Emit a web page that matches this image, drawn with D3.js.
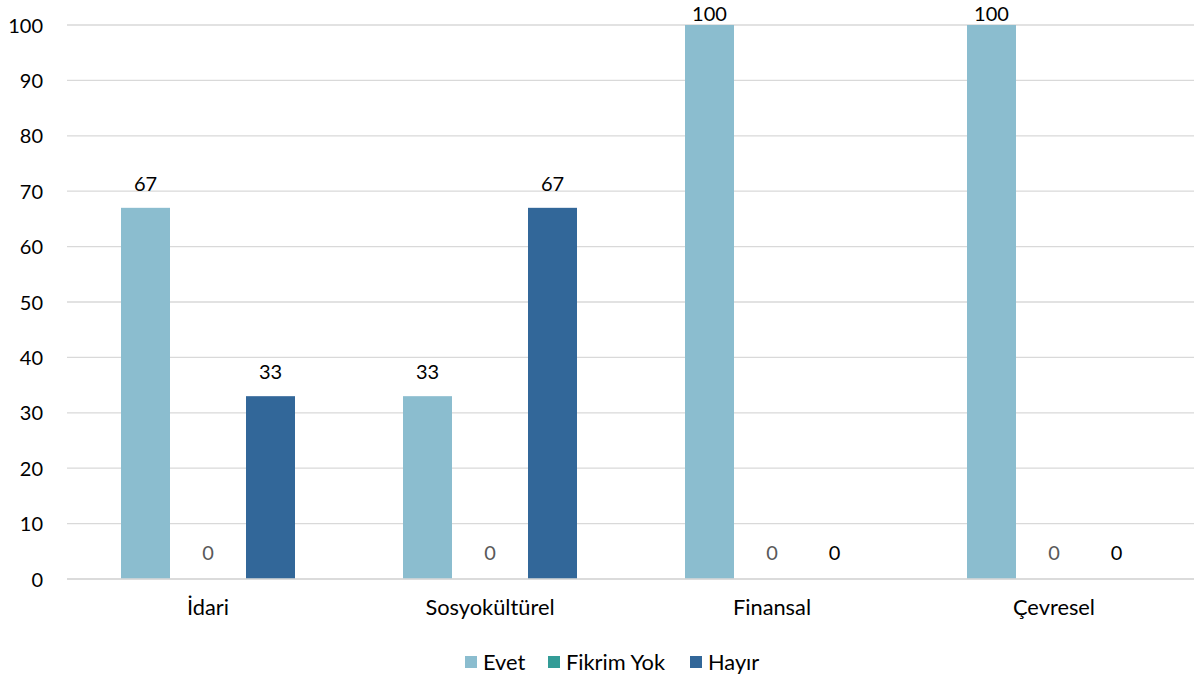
<!DOCTYPE html>
<html><head><meta charset="utf-8">
<script src="https://cdn.jsdelivr.net/npm/d3@7"></script>
<style>body{margin:0;background:#fff;} svg text{font-family:Lato,"Open Sans",sans-serif;}</style>
</head><body>
<svg id="c" width="1194" height="681"></svg>
<script>
const categories = ["İdari", "Sosyokültürel", "Finansal", "Çevresel"];
const seriesNames = ["Evet", "Fikrim Yok", "Hayır"];
const evet = [67, 33, 100, 100];
const fikrimYok = [0, 0, 0, 0];
const hayir = [33, 67, 0, 0];
const yTicks = [0, 10, 20, 30, 40, 50, 60, 70, 80, 90, 100];
const colors = ["#8BBDCF", "#339C97", "#326799"];
const labelColors = ["#000", "#595959", "#000"];

(function () {
const values = [evet, fikrimYok, hayir];
const svg = d3.select("#c");
const pLeft = 67, pRight = 1195, pTop = 25, pBottom = 579;
const fs = 20, fsText = 21.8;
const x0 = d3.scaleBand().domain(categories).range([pLeft, pRight]).paddingInner(0).paddingOuter(0);
const x1 = d3.scaleBand().domain(seriesNames).range([54, 228]).paddingInner(0.216).paddingOuter(0);
const y = d3.scaleLinear().domain([0, 100]).range([pBottom, pTop]);

svg.append("g").selectAll("line").data(yTicks).join("line")
  .attr("x1", pLeft).attr("x2", 1194)
  .attr("y1", d => y(d)).attr("y2", d => y(d))
  .attr("stroke", "#d9d9d9").attr("stroke-width", 1.3);

const yAxis = d3.axisLeft(y).tickValues(yTicks).tickSize(0).tickPadding(0);
const ya = svg.append("g").attr("transform", `translate(43,0)`).call(yAxis);
ya.select(".domain").remove();
ya.selectAll("text").attr("font-size", fs).attr("fill", "#000").attr("dy", "0.35em");

const xAxis = d3.axisBottom(x0).tickSize(0).tickPadding(0);
const xa = svg.append("g").attr("transform", `translate(0,${pBottom + 19})`).call(xAxis);
xa.select(".domain").remove();
xa.selectAll("text").attr("font-size", fsText).attr("fill", "#000").attr("dy", "0.8em");

seriesNames.forEach((s, si) => {
  const g = svg.append("g");
  g.selectAll("rect").data(categories).join("rect")
    .attr("x", c => x0(c) + x1(s))
    .attr("width", x1.bandwidth())
    .attr("y", (c, i) => y(values[si][i]))
    .attr("height", (c, i) => pBottom - y(values[si][i]))
    .attr("fill", colors[si]);
  g.selectAll("text").data(categories).join("text")
    .attr("x", c => x0(c) + x1(s) + x1.bandwidth() / 2)
    .attr("y", (c, i) => values[si][i] === 0 ? pBottom - 19 : Math.max(y(values[si][i]) - 17, 21))
    .attr("text-anchor", "middle")
    .attr("font-size", fs)
    .attr("fill", labelColors[si])
    .text((c, i) => values[si][i]);
});

svg.append("line").attr("x1", pLeft).attr("x2", 1194).attr("y1", pBottom).attr("y2", pBottom)
  .attr("stroke", "#d9d9d9").attr("stroke-width", 1.3);

const legX = [465, 548, 690];
const lg = svg.append("g");
seriesNames.forEach((s, i) => {
  lg.append("rect").attr("x", legX[i]).attr("y", 656).attr("width", 12).attr("height", 12).attr("fill", colors[i]);
  lg.append("text").attr("x", legX[i] + 18).attr("y", 670).attr("font-size", fsText).attr("fill", "#000").text(s);
});
})();
</script>
</body></html>
